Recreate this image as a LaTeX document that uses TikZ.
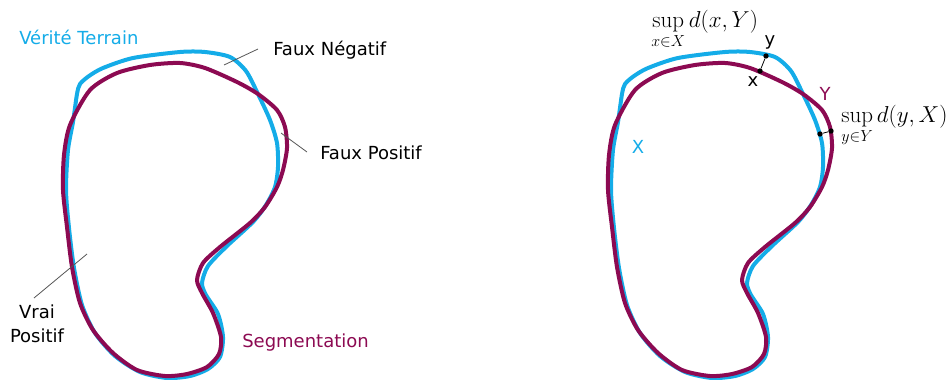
\documentclass[tikz,border=0pt]{standalone}
\usepackage[no-math]{fontspec}
\usepackage{amsmath}
\newfontfamily\lblfont{DejaVu Sans}
\definecolor{gtblue}{RGB}{20,172,232}
\definecolor{segmag}{RGB}{140,10,82}
\definecolor{leader}{RGB}{85,85,85}
\newcommand{\subsz}[1]{\text{\fontsize{12.5}{14}\selectfont$#1$}}
\begin{document}
\begin{tikzpicture}[x=0.75pt,y=-0.75pt,
  lbl/.style={font=\lblfont\fontsize{13.5}{18}\selectfont, inner sep=0pt},
  mth/.style={font=\fontsize{16}{19}\selectfont, inner sep=0pt},
  gtline/.style={draw=gtblue, line width=3pt, line join=round},
  segline/.style={draw=segmag, line width=3pt, line join=round},
  leaderline/.style={draw=leader, line width=0.6pt},
  dot/.style={circle, fill=black, inner sep=0pt, minimum size=4pt},
  dist/.style={draw=black, line width=0.6pt}]
\useasboundingbox (0,0) rectangle (952,379);
\def\bluepts{(77,94) (80,84) (89,76) (103,68) (133,58) (180,52) (205,52) (230,57) (246,71) (258,94) (270,120) (277,143) (278,167) (275,187) (266,205) (253,222) (227,246) (208,266) (202,283) (206,295) (218,314) (223,337) (220,357) (208,369) (190,376) (167,378) (140,372) (115,356) (95,333) (82,305) (74,268) (69,228) (66,190) (68,150) (73,122)}
\def\magpts{(90,90) (117,73) (150,65) (180,63) (205,68) (237,82) (258,94) (277,110) (285,127) (287,148) (283,170) (277,187) (265,207) (250,223) (220,247) (203,263) (197,280) (202,293) (213,313) (221,337) (219,354) (207,367) (187,374) (165,376) (137,370) (113,353) (93,330) (80,303) (72,267) (67,227) (63,190) (64,155) (70,125)}
% left figure
\draw[gtline] plot[smooth cycle, tension=0.45] coordinates {\bluepts};
\draw[segline] plot[smooth cycle, tension=0.45] coordinates {\magpts};
% right figure
\begin{scope}[xshift=408.75pt]
\draw[gtline] plot[smooth cycle, tension=0.45] coordinates {\bluepts};
\draw[segline] plot[smooth cycle, tension=0.45] coordinates {\magpts};
\end{scope}
% left labels
\node[lbl, text=gtblue, anchor=base west] (vt) at (19,44) {Vérité Terrain};
\node[lbl, anchor=base west] (fn) at (273,55) {Faux Négatif};
\node[lbl, anchor=base west] (fp) at (320,159) {Faux Positif};
\node[lbl, align=center, anchor=center] (vp) at (37,324) {Vrai\\Positif};
\node[lbl, text=segmag, anchor=base west] (seg) at (242,347) {Segmentation};
\coordinate (fnA) at (258,49); \coordinate (fnB) at (224,65);
\coordinate (fpA) at (307,152); \coordinate (fpB) at (281,133);
\coordinate (vpA) at (34,298); \coordinate (vpB) at (87,254);
\draw[leaderline] (fnA) -- (fnB);
\draw[leaderline] (fpA) -- (fpB);
\draw[leaderline] (vpA) -- (vpB);
% right labels
\node[lbl, text=gtblue, anchor=base] (X) at (638,153) {X};
\node[lbl, text=segmag, anchor=base] (Y) at (825,100) {Y};
\node[lbl, anchor=base] (ly) at (770,45) {y};
\node[lbl, anchor=base] (lx) at (753,86) {x};
\node[dot] (py) at (766,56) {};
\node[dot] (px) at (760,71) {};
\draw[dist] (py) -- (px);
\node[dot] (qx) at (820,134) {};
\node[dot] (qy) at (831,131) {};
\draw[dist] (qx) -- (qy);
\node[mth, anchor=base west] (supx) at (651,27) {$\displaystyle\sup_{\subsz{x{\in}X}} d(x,Y)$};
\node[mth, anchor=base west] (supy) at (841,122) {$\displaystyle\sup_{\subsz{y{\in}Y}} d(y,X)$};
\end{tikzpicture}
\end{document}
